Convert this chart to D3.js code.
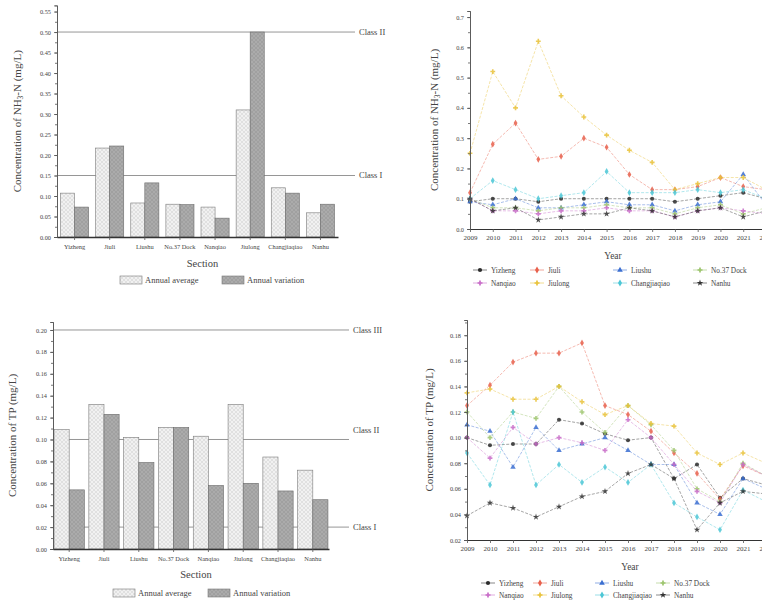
<!DOCTYPE html>
<html>
<head>
<meta charset="utf-8">
<script src="https://cdn.jsdelivr.net/npm/d3@7"></script>
<style>
  body { margin: 0; background: #fff; overflow: hidden; }
  svg text { font-family: "Liberation Serif", "Times New Roman", serif; fill: #444; }
</style>
</head>
<body>
<script>
// ---- data ----
const sections = ["Yizheng", "Jiuli", "Liushu", "No.37 Dock", "Nanqiao", "Jiulong", "Changjiaqiao", "Nanhu"];
const barLegend = ["Annual average", "Annual variation"];

const nh3Average = [0.107, 0.217, 0.083, 0.080, 0.073, 0.310, 0.120, 0.059];
const nh3Variation = [0.073, 0.222, 0.132, 0.079, 0.046, 0.500, 0.107, 0.080];
const nh3Ticks = [0, 0.05, 0.1, 0.15, 0.2, 0.25, 0.3, 0.35, 0.4, 0.45, 0.5, 0.55];
const nh3Classes = [{ label: "Class I", value: 0.15 }, { label: "Class II", value: 0.5 }];

const tpAverage = [0.109, 0.132, 0.102, 0.111, 0.103, 0.132, 0.084, 0.072];
const tpVariation = [0.054, 0.123, 0.079, 0.111, 0.058, 0.060, 0.053, 0.045];
const tpTicks = [0, 0.02, 0.04, 0.06, 0.08, 0.1, 0.12, 0.14, 0.16, 0.18, 0.2];
const tpClasses = [{ label: "Class I", value: 0.02 }, { label: "Class II", value: 0.1 }, { label: "Class III", value: 0.2 }];

const years = [2009, 2010, 2011, 2012, 2013, 2014, 2015, 2016, 2017, 2018, 2019, 2020, 2021, 2022];
const nh3YearTicks = [0, 0.1, 0.2, 0.3, 0.4, 0.5, 0.6, 0.7];
const tpYearTicks = [0.02, 0.04, 0.06, 0.08, 0.1, 0.12, 0.14, 0.16, 0.18];

const nh3Yizheng = [0.09, 0.10, 0.10, 0.09, 0.10, 0.10, 0.10, 0.10, 0.10, 0.09, 0.10, 0.11, 0.12, 0.10];
const nh3Jiuli = [0.12, 0.28, 0.35, 0.23, 0.24, 0.30, 0.27, 0.18, 0.13, 0.13, 0.14, 0.17, 0.14, 0.13];
const nh3Liushu = [0.09, 0.08, 0.10, 0.07, 0.07, 0.08, 0.09, 0.08, 0.08, 0.06, 0.08, 0.09, 0.18, 0.08];
const nh3Dock37 = [0.10, 0.07, 0.07, 0.06, 0.07, 0.07, 0.08, 0.07, 0.07, 0.05, 0.07, 0.08, 0.05, 0.07];
const nh3Nanqiao = [0.10, 0.06, 0.06, 0.05, 0.06, 0.06, 0.07, 0.06, 0.06, 0.04, 0.06, 0.07, 0.06, 0.05];
const nh3Jiulong = [0.25, 0.52, 0.40, 0.62, 0.44, 0.37, 0.31, 0.26, 0.22, 0.13, 0.15, 0.17, 0.17, 0.13];
const nh3Changjiaqiao = [0.10, 0.16, 0.13, 0.10, 0.11, 0.12, 0.19, 0.12, 0.12, 0.12, 0.13, 0.12, 0.13, 0.10];
const nh3Nanhu = [0.10, 0.06, 0.07, 0.03, 0.04, 0.05, 0.05, 0.07, 0.06, 0.04, 0.06, 0.07, 0.04, 0.06];

const tpYizheng = [0.100, 0.094, 0.095, 0.095, 0.114, 0.111, 0.103, 0.098, 0.100, 0.068, 0.079, 0.053, 0.068, 0.063];
const tpJiuli = [0.125, 0.141, 0.159, 0.166, 0.166, 0.174, 0.125, 0.118, 0.105, 0.088, 0.072, 0.052, 0.078, 0.070];
const tpLiushu = [0.110, 0.105, 0.077, 0.108, 0.090, 0.095, 0.100, 0.090, 0.079, 0.079, 0.049, 0.040, 0.068, 0.060];
const tpDock37 = [0.120, 0.100, 0.120, 0.115, 0.140, 0.120, 0.104, 0.125, 0.110, 0.090, 0.060, 0.050, 0.080, 0.070];
const tpNanqiao = [0.100, 0.084, 0.108, 0.095, 0.100, 0.096, 0.090, 0.114, 0.100, 0.079, 0.058, 0.049, 0.079, 0.070];
const tpJiulong = [0.135, 0.138, 0.130, 0.130, 0.140, 0.128, 0.118, 0.125, 0.111, 0.109, 0.088, 0.079, 0.088, 0.080];
const tpChangjiaqiao = [0.088, 0.063, 0.120, 0.063, 0.079, 0.065, 0.077, 0.065, 0.079, 0.049, 0.038, 0.028, 0.059, 0.050];
const tpNanhu = [0.039, 0.049, 0.045, 0.038, 0.046, 0.054, 0.058, 0.072, 0.079, 0.068, 0.028, 0.049, 0.058, 0.056];

const stationColour = ["#2b2b2b", "#e8604c", "#3b6fd1", "#9cc46c", "#c86cc8", "#e9c23a", "#4cc7d6", "#333333"];
const stationSymbol = [d3.symbolCircle, d3.symbolDiamond, d3.symbolTriangle, d3.symbolCross,
  d3.symbolCross, d3.symbolCross, d3.symbolDiamond, d3.symbolStar];

const nh3Series = [nh3Yizheng, nh3Jiuli, nh3Liushu, nh3Dock37, nh3Nanqiao, nh3Jiulong, nh3Changjiaqiao, nh3Nanhu];
const tpSeries = [tpYizheng, tpJiuli, tpLiushu, tpDock37, tpNanqiao, tpJiulong, tpChangjiaqiao, tpNanhu];

// ---- drawing ----
const svg = d3.select("body").append("svg").attr("width", 762).attr("height", 601);

const defs = svg.append("defs");
function hatch(id, bg, line) {
  const p = defs.append("pattern").attr("id", id).attr("patternUnits", "userSpaceOnUse")
    .attr("width", 4).attr("height", 4);
  p.append("rect").attr("width", 4).attr("height", 4).attr("fill", bg);
  p.append("path").attr("d", "M0,0L4,4M4,0L0,4").attr("stroke", line).attr("stroke-width", 0.5);
}
hatch("hatchLight", "#f1f1f1", "#cfcfcf");
hatch("hatchDark", "#ababab", "#959595");

function yTitle(g, x, y, parts) {
  const t = g.append("text").attr("transform", `translate(${x},${y}) rotate(-90)`)
    .attr("text-anchor", "middle").attr("font-size", 11);
  parts.forEach((p) => {
    const s = t.append("tspan").text(p.text);
    if (p.sub) s.attr("font-size", 7.5).attr("dy", 2);
    if (p.back) s.attr("dy", -2);
  });
}

function styleAxis(g) {
  g.selectAll("path, line").attr("stroke", "#555").attr("stroke-width", 0.8);
  g.selectAll("text").attr("fill", "#444").style("font-family", "Liberation Serif");
}

function barPanel(cfg) {
  const g = svg.append("g");
  const x = d3.scaleBand().domain(sections).range([cfg.x0, cfg.x1])
    .paddingInner(cfg.padIn).paddingOuter(cfg.padOut);
  const y = d3.scaleLinear().domain([0, cfg.yMax]).range([cfg.yZero, cfg.yTop]);
  const half = x.bandwidth() / 2;

  // class lines
  cfg.classes.forEach((c) => {
    g.append("line").attr("x1", cfg.x0).attr("x2", cfg.lineEnd)
      .attr("y1", y(c.value)).attr("y2", y(c.value))
      .attr("stroke", "#8a8a8a").attr("stroke-width", 0.9);
    g.append("text").attr("x", cfg.lineEnd + 4).attr("y", y(c.value) + (c.dy || 0))
      .attr("dy", "0.35em").attr("font-size", 8.5).text(c.label);
  });

  // bars
  g.selectAll(".avg").data(sections).join("rect").attr("class", "avg")
    .attr("x", (d) => x(d)).attr("width", half)
    .attr("y", (d, i) => y(cfg.avg[i])).attr("height", (d, i) => y(0) - y(cfg.avg[i]))
    .attr("fill", "url(#hatchLight)").attr("stroke", "#7a7a7a").attr("stroke-width", 0.6);
  g.selectAll(".var").data(sections).join("rect").attr("class", "var")
    .attr("x", (d) => x(d) + half).attr("width", half)
    .attr("y", (d, i) => y(cfg.vari[i])).attr("height", (d, i) => y(0) - y(cfg.vari[i]))
    .attr("fill", "url(#hatchDark)").attr("stroke", "#6a6a6a").attr("stroke-width", 0.6);

  // axes
  const minor = d3.range(0, cfg.yMax, cfg.step / 2);
  g.append("g").attr("transform", `translate(${cfg.x0},0)`)
    .call(d3.axisLeft(y).tickValues(minor).tickSize(2).tickFormat(""))
    .call(styleAxis);
  g.append("g").attr("transform", `translate(${cfg.x0},0)`)
    .call(d3.axisLeft(y).tickValues(cfg.ticks).tickSize(3).tickFormat(d3.format(".2f")))
    .call(styleAxis)
    .call((a) => a.selectAll("text").attr("font-size", 6.3));
  g.append("g").attr("transform", `translate(0,${cfg.yZero})`)
    .call(d3.axisBottom(x).tickSize(3).tickSizeOuter(0))
    .call(styleAxis)
    .call((a) => a.select(".domain").attr("stroke", "#333").attr("stroke-width", 1.4))
    .call((a) => a.selectAll("text").attr("font-size", 6.4).attr("dy", "0.9em"));

  g.append("text").attr("x", (cfg.x0 + cfg.x1) / 2 + 5).attr("y", cfg.sectionY)
    .attr("text-anchor", "middle").attr("font-size", 10.5).text("Section");
  yTitle(g, cfg.titleX, (cfg.yZero + cfg.yTop) / 2, cfg.title);

  // legend
  const fills = ["url(#hatchLight)", "url(#hatchDark)"];
  barLegend.forEach((name, i) => {
    g.append("rect").attr("x", cfg.legX[i]).attr("y", cfg.legY - 4).attr("width", 22).attr("height", 8)
      .attr("fill", fills[i]).attr("stroke", "#777").attr("stroke-width", 0.6);
    g.append("text").attr("x", cfg.legX[i] + 25).attr("y", cfg.legY).attr("dy", "0.35em")
      .attr("font-size", 8.5).text(name);
  });
}

function linePanel(cfg) {
  const g = svg.append("g");
  const x = d3.scaleLinear().domain([2009, 2022]).range([cfg.x0, cfg.x1]);
  const y = d3.scaleLinear().domain([cfg.yMin, cfg.yMax]).range([cfg.yZero, cfg.yTop]);
  const line = d3.line().x((d, i) => x(years[i])).y((d) => y(d));

  cfg.series.forEach((vals, s) => {
    g.append("path").datum(vals).attr("d", line).attr("fill", "none")
      .attr("stroke", stationColour[s]).attr("stroke-width", 0.8)
      .attr("stroke-dasharray", "3,1.5").attr("opacity", 0.55);
    g.selectAll(null).data(vals).join("path")
      .attr("transform", (d, i) => `translate(${x(years[i])},${y(d)})`)
      .attr("d", d3.symbol().type(stationSymbol[s]).size(13))
      .attr("fill", stationColour[s]).attr("opacity", 0.85);
  });

  const minor = d3.range(cfg.yMin, cfg.yMax, cfg.step / 2);
  g.append("g").attr("transform", `translate(${cfg.x0},0)`)
    .call(d3.axisLeft(y).tickValues(minor).tickSize(2).tickFormat(""))
    .call(styleAxis);
  g.append("g").attr("transform", `translate(${cfg.x0},0)`)
    .call(d3.axisLeft(y).tickValues(cfg.ticks).tickSize(3).tickFormat(d3.format(cfg.fmt)))
    .call(styleAxis)
    .call((a) => a.selectAll("text").attr("font-size", 6.3));
  g.append("g").attr("transform", `translate(0,${cfg.yZero})`)
    .call(d3.axisBottom(x).tickValues(years).tickSize(3).tickSizeOuter(0).tickFormat(d3.format("d")))
    .call(styleAxis)
    .call((a) => a.select(".domain").attr("stroke", "#333").attr("stroke-width", 1.2))
    .call((a) => a.selectAll("text").attr("font-size", 7));

  g.append("text").attr("x", cfg.yearX).attr("y", cfg.yearY)
    .attr("text-anchor", "middle").attr("font-size", 9.5).text("Year");
  yTitle(g, cfg.titleX, (cfg.yZero + cfg.yTop) / 2, cfg.title);

  sections.forEach((name, i) => {
    const cx = cfg.legX[i % 4];
    const cy = cfg.legY[Math.floor(i / 4)];
    g.append("line").attr("x1", cx - 7).attr("x2", cx + 7).attr("y1", cy).attr("y2", cy)
      .attr("stroke", stationColour[i]).attr("stroke-width", 0.8).attr("opacity", 0.7);
    g.append("path").attr("transform", `translate(${cx},${cy})`)
      .attr("d", d3.symbol().type(stationSymbol[i]).size(14)).attr("fill", stationColour[i]);
    g.append("text").attr("x", cx + 11).attr("y", cy).attr("dy", "0.35em")
      .attr("font-size", 7.3).text(name);
  });
}

const nh3Title = [{ text: "Concentration of NH" }, { text: "3", sub: true }, { text: "-N (mg/L)", back: true }];
const tpTitle = [{ text: "Concentration of TP (mg/L)" }];

barPanel({
  x0: 57, x1: 338, yZero: 237, yTop: 5.4, yMax: 0.565, step: 0.05, ticks: nh3Ticks,
  padIn: 0.2, padOut: 0.1, avg: nh3Average, vari: nh3Variation, classes: nh3Classes,
  lineEnd: 355, sectionY: 267, titleX: 21, title: nh3Title, legX: [120, 222], legY: 280
});

barPanel({
  x0: 53, x1: 329, yZero: 549, yTop: 322, yMax: 0.2073, step: 0.02, ticks: tpTicks,
  padIn: 0.13, padOut: 0.03, avg: tpAverage, vari: tpVariation,
  classes: tpClasses.map((c) => (c.label === "Class II" ? Object.assign({ dy: -9 }, c) : c)),
  lineEnd: 349, sectionY: 578, titleX: 16, title: tpTitle, legX: [113, 208], legY: 593
});

linePanel({
  x0: 470, x1: 766, yZero: 229, yTop: 11, yMin: 0, yMax: 0.72, step: 0.1, ticks: nh3YearTicks,
  fmt: ".1f", series: nh3Series, yearX: 613, yearY: 259, titleX: 438, title: nh3Title,
  legX: [480, 537, 620, 700], legY: [270, 283]
});

linePanel({
  x0: 467, x1: 766, yZero: 540, yTop: 320, yMin: 0.02, yMax: 0.1919, step: 0.02, ticks: tpYearTicks,
  fmt: ".2f", series: tpSeries, yearX: 630, yearY: 570, titleX: 433, title: tpTitle,
  legX: [488, 540, 602, 663], legY: [583, 595]
});
</script>
</body>
</html>
